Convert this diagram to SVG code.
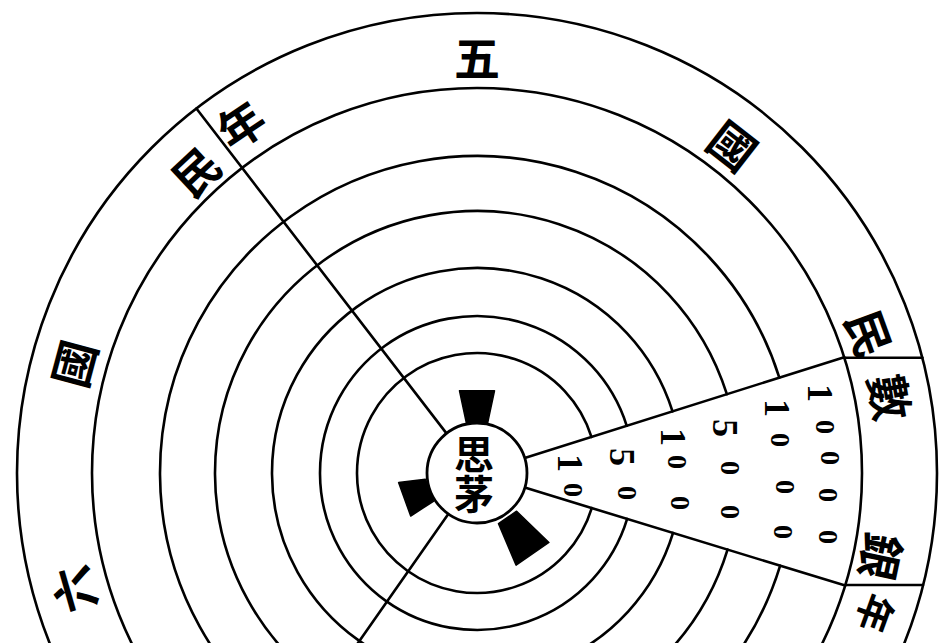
<svg xmlns="http://www.w3.org/2000/svg" width="940" height="643" viewBox="0 0 940 643">
<style>
.ln{fill:none;stroke:#000;stroke-width:2.6;stroke-linecap:round}
.blk{fill:#000;stroke:#000;stroke-width:1.5;stroke-linejoin:round}
.ch{font-family:"Noto Sans CJK TC","Noto Sans CJK SC",sans-serif;font-size:46px;font-weight:bold;text-anchor:middle;dominant-baseline:central;fill:#000}
.dg{font-family:"Liberation Serif",serif;font-weight:bold;text-anchor:middle;dominant-baseline:central;fill:#000}
.d0{font-size:28px}
.d1{font-size:36px}
</style>
<rect width="940" height="643" fill="#fff"/>
<g id="rings">
<circle class="ln" cx="477" cy="473" r="460"/>
<circle class="ln" cx="477" cy="473" r="385"/>
<path class="ln" d="M780.15 565.69 A317 317 0 1 1 779.32 377.68"/>
<path class="ln" d="M727.55 549.61 A262 262 0 1 1 726.87 394.22"/>
<path class="ln" d="M673.04 532.94 A205 205 0 1 1 672.51 411.36"/>
<path class="ln" d="M627.14 518.90 A157 157 0 1 1 626.73 425.79"/>
<path class="ln" d="M591.76 508.09 A120 120 0 1 1 591.44 436.91"/>
</g>
<g id="connectors">
<line class="ln" x1="446.5" y1="433.4" x2="196.4" y2="108.5"/>
<line class="ln" x1="448.3" y1="514" x2="345.1" y2="661.4"/>
<line class="ln" x1="524.7" y1="458" x2="844.2" y2="357.2"/>
<line class="ln" x1="524.8" y1="487.6" x2="845.2" y2="585.6"/>
<line class="ln" x1="844.2" y1="357.8" x2="922.5" y2="357.8"/>
<line class="ln" x1="845.2" y1="585" x2="923" y2="585"/>
</g>
<g id="hub">
<polygon class="blk" points="459.5,390.8 494.5,390.8 487.4,424.1 466.6,424.1"/>
<polygon class="blk" points="398.6,482.6 425.4,479.3 433.4,501.3 410.7,516"/>
<polygon class="blk" points="516.6,511.2 548.9,542.5 516.1,565.1 498.5,523.6"/>
<circle cx="477" cy="473" r="50" fill="#fff" stroke="#000" stroke-width="2.8"/>
<text class="ch" x="474" y="474" writing-mode="vertical-rl" style="font-size:40px">思茅</text>
</g>
<g id="ring-labels">
<text class="ch" transform="rotate(0 477 55)" x="477" y="55">五</text>
<text class="ch" transform="rotate(38 734 144)" x="734" y="144">國</text>
<text class="ch" transform="rotate(70 871 333)" x="871" y="333">民</text>
<text class="ch" transform="rotate(80 892 397)" x="892" y="397">數</text>
<text class="ch" transform="rotate(102 883 557)" x="883" y="557">銀</text>
<text class="ch" transform="rotate(110 877 614)" x="877" y="614" style="font-size:38px">年</text>
<text class="ch" transform="rotate(-34 240 123)" x="240" y="123">年</text>
<text class="ch" transform="rotate(-43 195 170)" x="195" y="170">民</text>
<text class="ch" transform="rotate(-75 72 363)" x="72" y="363">國</text>
<text class="ch" transform="rotate(-106 72 590)" x="72" y="590">六</text>
</g>
<g id="wedge-values">
<text class="dg d1" transform="rotate(90 570 463)" x="570" y="463">1</text>
<text class="dg d0" transform="rotate(90 573 490)" x="573" y="490">0</text>
<text class="dg d1" transform="rotate(90 622 457)" x="622" y="457">5</text>
<text class="dg d0" transform="rotate(90 627 493)" x="627" y="493">0</text>
<text class="dg d1" transform="rotate(90 673 437)" x="673" y="437">1</text>
<text class="dg d0" transform="rotate(90 677 462)" x="677" y="462">0</text>
<text class="dg d0" transform="rotate(90 680 503)" x="680" y="503">0</text>
<text class="dg d1" transform="rotate(90 725 428)" x="725" y="428">5</text>
<text class="dg d0" transform="rotate(90 730 468)" x="730" y="468">0</text>
<text class="dg d0" transform="rotate(90 730 512)" x="730" y="512">0</text>
<text class="dg d1" transform="rotate(90 777 408)" x="777" y="408">1</text>
<text class="dg d0" transform="rotate(90 780 440)" x="780" y="440">0</text>
<text class="dg d0" transform="rotate(90 785 487)" x="785" y="487">0</text>
<text class="dg d0" transform="rotate(90 783 532)" x="783" y="532">0</text>
<text class="dg d1" transform="rotate(90 820 393)" x="820" y="393">1</text>
<text class="dg d0" transform="rotate(90 825 427)" x="825" y="427">0</text>
<text class="dg d0" transform="rotate(90 830 458)" x="830" y="458">0</text>
<text class="dg d0" transform="rotate(90 828 495)" x="828" y="495">0</text>
<text class="dg d0" transform="rotate(90 828 537)" x="828" y="537">0</text>
</g>
</svg>
